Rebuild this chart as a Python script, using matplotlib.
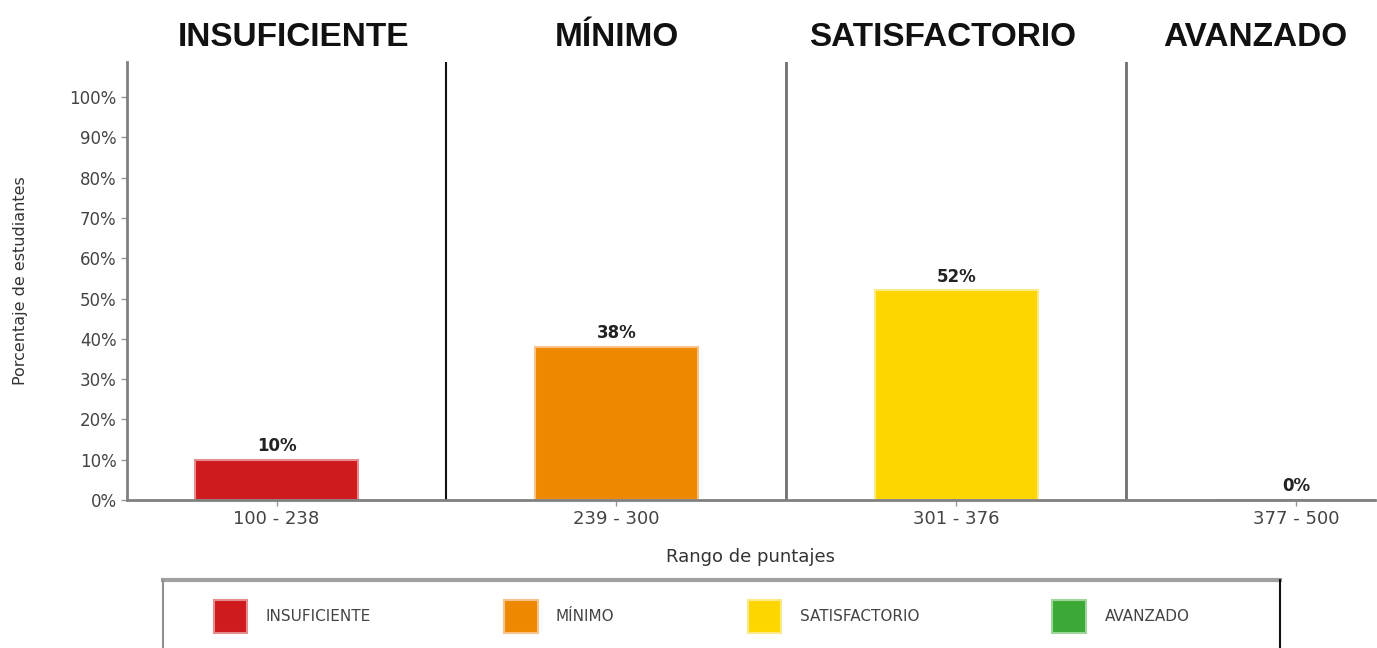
import matplotlib.pyplot as plt
from matplotlib.patches import Patch
from matplotlib.lines import Line2D

# data
niveles = ["INSUFICIENTE", "MÍNIMO", "SATISFACTORIO", "AVANZADO"]
rangos = ["100 - 238", "239 - 300", "301 - 376", "377 - 500"]
porcentajes = [10, 38, 52, 0]
colores = ["#CF1A1E", "#EE8800", "#FDD600", "#3AA935"]
bordes = ["#E58C8E", "#F6C48A", "#FCE98A", "#9FD49B"]
yticks = [0, 10, 20, 30, 40, 50, 60, 70, 80, 90, 100]

fig = plt.figure(figsize=(13.77, 6.48), dpi=100)
ax = fig.add_axes([0.0922, 0.2284, 0.906, 0.676])

x = list(range(len(niveles)))
ax.bar(x, porcentajes, width=0.48, color=colores, edgecolor=bordes, linewidth=1.5)
for xi, v in zip(x, porcentajes):
    ax.text(xi, v + 1.2, f"{v}%", ha="center", va="bottom", fontsize=12,
            fontweight="bold", color="#222222")

ax.set_xlim(-0.44, 3.23)
ax.set_ylim(0, 108.7)
ax.set_yticks(yticks)
ax.set_yticklabels([f"{t}%" for t in yticks], fontsize=12, color="#444444")
ax.set_xticks(x)
ax.set_xticklabels(rangos, fontsize=13, color="#444444")
ax.tick_params(axis="both", colors="#999999", length=4, width=1, labelcolor="#444444")

for s in ["top", "right"]:
    ax.spines[s].set_visible(False)
for s in ["left", "bottom"]:
    ax.spines[s].set_color("#808080")
    ax.spines[s].set_linewidth(2)

# division lines
ax.axvline(0.5, color="#111111", lw=1.5)
ax.axvline(1.5, color="#707070", lw=2)
ax.axvline(2.5, color="#707070", lw=2)

# level titles
for xi, n in zip([0.05, 1.0, 1.96, 2.88], niveles):
    ax.text(xi, 1.02, n, transform=ax.get_xaxis_transform(), ha="center",
            va="bottom", fontsize=24, fontweight="bold", color="#111111",
            family="Liberation Sans")

ax.set_ylabel("Porcentaje de estudiantes", fontsize=11.5, color="#333333", labelpad=30)
ax.set_xlabel("Rango de puntajes", fontsize=13, color="#333333", labelpad=14)

# legend (box open at the bottom, as in the cropped original)
handles = [Patch(facecolor=c, edgecolor=b, lw=1.5, label=n) for c, b, n in zip(colores, bordes, niveles)]
leg = fig.legend(handles=handles, loc="center left", bbox_to_anchor=(0.1496, 0.049, 0.7197, 0.0),
                 mode="expand", ncol=4, frameon=False, fontsize=11, borderpad=0,
                 handlelength=2.2, handleheight=2.9, handletextpad=1.2, labelcolor="#444444")

fig.add_artist(Line2D([163 / 1377, 1280 / 1377], [0.105, 0.105], transform=fig.transFigure,
                      color="#A0A0A0", lw=3))
fig.add_artist(Line2D([163 / 1377, 163 / 1377], [0.105, 0.0], transform=fig.transFigure,
                      color="#909090", lw=1.5))
fig.add_artist(Line2D([1280 / 1377, 1280 / 1377], [0.105, 0.0], transform=fig.transFigure,
                      color="#111111", lw=1.5))

fig.savefig("out.png", dpi=100)
